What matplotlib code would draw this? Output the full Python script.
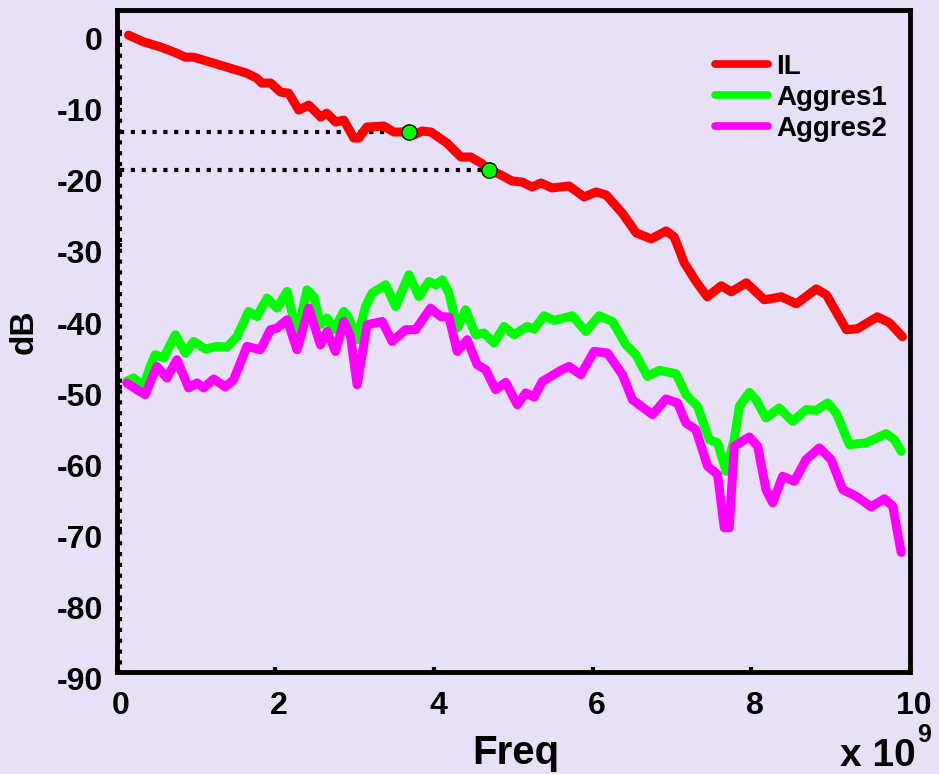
import matplotlib
matplotlib.use("Agg")
import matplotlib.pyplot as plt
from matplotlib.transforms import ScaledTranslation
import numpy as np

BG = "#E7E0F6"
FONT = "Liberation Sans"

# Insertion loss (GHz, dB)
il_freq = [0.151, 0.341, 0.551, 0.757, 0.867, 0.971, 1.224, 1.640, 1.767, 1.830,
           1.943, 2.069, 2.170, 2.297, 2.423, 2.574, 2.650, 2.763, 2.864, 2.990,
           3.053, 3.155, 3.369, 3.495, 3.685, 3.748, 3.849, 3.962, 4.164, 4.341,
           4.467, 4.593, 4.694, 4.845, 4.984, 5.110, 5.237, 5.350, 5.489, 5.703,
           5.893, 6.044, 6.170, 6.372, 6.549, 6.738, 6.927, 7.028, 7.155, 7.306,
           7.445, 7.621, 7.747, 7.937, 8.164, 8.379, 8.568, 8.820, 8.946, 9.199,
           9.338, 9.590, 9.741, 9.905]
il_db = [-0.49, -1.43, -2.13, -3.02, -3.58, -3.58, -4.42, -5.83, -6.53, -7.23,
         -7.23, -8.50, -8.64, -11.03, -10.32, -12.01, -11.45, -12.71, -12.43, -14.96,
         -14.96, -13.41, -13.27, -14.11, -14.10, -14.54, -13.97, -14.11, -15.66, -17.63,
         -17.63, -18.47, -19.40, -20.15, -21.00, -21.14, -21.84, -21.28, -21.98, -21.70,
         -23.24, -22.54, -22.96, -25.49, -28.30, -29.14, -28.02, -28.86, -32.51, -35.18,
         -37.29, -35.74, -36.59, -35.32, -37.71, -37.29, -38.27, -36.17, -37.01, -41.92,
         -41.78, -40.10, -40.94, -42.91]

# Crosstalk from aggressor 1 (GHz, dB)
ag1_freq = [0.130, 0.215, 0.341, 0.425, 0.488, 0.593, 0.741, 0.867, 0.972, 1.119,
            1.266, 1.394, 1.518, 1.665, 1.770, 1.897, 2.023, 2.149, 2.275, 2.401,
            2.486, 2.570, 2.654, 2.738, 2.864, 2.927, 3.032, 3.138, 3.221, 3.391,
            3.517, 3.685, 3.811, 3.937, 4.022, 4.105, 4.189, 4.294, 4.400, 4.526,
            4.631, 4.757, 4.883, 5.009, 5.177, 5.262, 5.388, 5.514, 5.745, 5.914,
            6.082, 6.250, 6.419, 6.545, 6.691, 6.839, 7.050, 7.176, 7.322, 7.470,
            7.575, 7.681, 7.785, 7.849, 7.975, 8.059, 8.185, 8.353, 8.521, 8.690,
            8.816, 8.963, 9.069, 9.237, 9.447, 9.700, 9.804, 9.889]
ag1_db = [-49.19, -48.71, -49.89, -47.08, -45.44, -45.90, -42.63, -45.20, -43.57, -44.63,
          -44.27, -44.35, -42.87, -39.35, -40.06, -37.47, -38.88, -36.54, -42.63, -36.31,
          -37.25, -41.22, -40.28, -41.92, -39.35, -40.28, -43.33, -38.65, -36.77, -35.60,
          -38.65, -34.20, -37.25, -35.14, -35.60, -34.90, -36.77, -41.69, -39.11, -42.63,
          -42.39, -43.79, -41.46, -42.63, -41.46, -41.83, -39.96, -40.62, -39.96, -42.16,
          -39.96, -40.76, -44.03, -45.44, -48.48, -47.64, -48.10, -51.05, -52.70, -57.37,
          -57.84, -61.83, -57.37, -52.70, -50.73, -51.76, -54.33, -52.92, -54.80, -53.16,
          -53.26, -52.22, -53.62, -58.08, -57.84, -56.53, -57.37, -59.02]

# Crosstalk from aggressor 2 (GHz, dB)
ag2_freq = [0.130, 0.256, 0.362, 0.509, 0.635, 0.761, 0.909, 1.013, 1.098, 1.224,
            1.372, 1.476, 1.644, 1.813, 1.939, 2.023, 2.149, 2.275, 2.423, 2.570,
            2.654, 2.760, 2.864, 2.949, 3.032, 3.158, 3.348, 3.474, 3.643, 3.769,
            3.958, 4.085, 4.189, 4.294, 4.420, 4.546, 4.652, 4.778, 4.905, 5.051,
            5.157, 5.262, 5.366, 5.599, 5.703, 5.851, 6.019, 6.187, 6.376, 6.502,
            6.755, 6.924, 7.070, 7.176, 7.302, 7.449, 7.575, 7.659, 7.722, 7.785,
            7.975, 8.080, 8.185, 8.269, 8.395, 8.543, 8.690, 8.858, 9.006, 9.152,
            9.321, 9.510, 9.678, 9.783, 9.889]
ag2_db = [-49.41, -50.35, -51.05, -47.08, -48.71, -46.14, -50.11, -49.41, -50.11, -48.85,
          -49.97, -48.95, -44.27, -44.73, -41.92, -41.69, -40.52, -44.73, -38.88, -44.03,
          -42.16, -44.97, -40.76, -42.87, -49.65, -41.22, -40.76, -43.57, -41.92, -41.92,
          -38.88, -40.06, -40.14, -44.97, -43.33, -46.84, -47.54, -50.35, -49.33, -52.46,
          -50.81, -51.38, -49.19, -47.64, -47.08, -48.24, -44.97, -45.20, -48.24, -51.76,
          -53.86, -51.66, -52.22, -55.03, -55.97, -61.12, -62.29, -69.78, -69.78, -58.31,
          -57.00, -58.31, -64.40, -66.26, -62.53, -63.23, -60.18, -58.54, -60.18, -64.40,
          -65.34, -66.83, -65.70, -66.74, -73.24]

# Cursor points on the IL curve (GHz, dB)
cursor_freq = [3.685, 4.694]
cursor_db = [-14.10, -19.40]
ref_freq = 0.05  # vertical reference line (GHz)

x_ticks = [0, 2, 4, 6, 8, 10]
y_ticks = [0, -10, -20, -30, -40, -50, -60, -70, -80, -90]
series_labels = ["IL", "Aggres1", "Aggres2"]

GHZ = 1e9

plt.rcParams["font.family"] = [FONT, "DejaVu Sans"]
plt.rcParams["font.weight"] = "bold"

fig = plt.figure(figsize=(9.39, 7.74), dpi=100, facecolor=BG)
ax = fig.add_axes([0.1241, 0.1324, 0.8450, 0.8542], facecolor=BG)

dot = (0, (1, 1.6))
ax.plot([ref_freq * GHZ, ref_freq * GHZ], [y_ticks[0], y_ticks[-1]],
        color="black", lw=3, linestyle=dot, dash_capstyle="butt", zorder=3)
for f, d in zip(cursor_freq, cursor_db):
    ax.plot([ref_freq * GHZ, f * GHZ], [d, d], color="black", lw=3,
            linestyle=dot, dash_capstyle="butt", zorder=3)

lw = 6.5
ax.plot(np.array(il_freq) * GHZ, il_db, color="#FF0000", lw=lw,
        solid_joinstyle="round", solid_capstyle="round", label=series_labels[0], zorder=4)
ax.plot(np.array(ag1_freq) * GHZ, ag1_db, color="#00FF00", lw=lw,
        solid_joinstyle="round", solid_capstyle="round", label=series_labels[1], zorder=4)
ax.plot(np.array(ag2_freq) * GHZ, ag2_db, color="#FF00FF", lw=lw,
        solid_joinstyle="round", solid_capstyle="round", label=series_labels[2], zorder=4)

ax.plot(np.array(cursor_freq) * GHZ, cursor_db, linestyle="none", marker="o",
        markersize=11, markerfacecolor="#00FF00", markeredgecolor="black",
        markeredgewidth=1, zorder=5)

ax.set_xlim(0, 10 * GHZ)
ax.set_ylim(-90, 3)
ax.set_xticks([t * GHZ for t in x_ticks])
ax.set_xticklabels([str(t) for t in x_ticks])
ax.set_yticks(y_ticks)
ax.set_yticklabels([str(t) for t in y_ticks])

for s in ax.spines.values():
    s.set_linewidth(3.5)
ax.tick_params(axis="both", direction="in", length=3.5, width=3,
               labelsize=23, color="black")
ax.tick_params(axis="x", pad=14)
ax.tick_params(axis="y", pad=10)
for lab in ax.get_xticklabels():
    lab.set_fontweight("bold")
    lab.set_transform(lab.get_transform() + ScaledTranslation(0.04, 0, fig.dpi_scale_trans))
for lab in ax.get_yticklabels():
    lab.set_fontweight("bold")
    lab.set_transform(lab.get_transform() + ScaledTranslation(0, -0.07, fig.dpi_scale_trans))

ax.set_xlabel("Freq", fontsize=29, fontweight="bold", va="baseline")
ax.xaxis.set_label_coords((516 - 116.5) / 793.5, -(764 - 671.5) / 661)
ax.set_ylabel("dB", fontsize=24, fontweight="bold", va="center", ha="center")
ax.yaxis.set_label_coords((24 - 116.5) / 793.5, (671.5 - 332) / 661)

fig.text(840 / 939, 8 / 774, "x 10", fontsize=28, fontweight="bold",
         ha="left", va="baseline")
fig.text(917 / 939, (774 - 742) / 774, "9", fontsize=18, fontweight="bold",
         ha="left", va="baseline")

leg = ax.legend(loc="upper left", bbox_to_anchor=(715 / 939, (774 - 54) / 774),
                bbox_transform=fig.transFigure, frameon=False, fontsize=20,
                prop={"weight": "bold", "size": 20}, handlelength=1.9,
                handletextpad=0.3, labelspacing=0.18, borderpad=0, borderaxespad=0)
for h in leg.get_lines():
    h.set_linewidth(5.5)

fig.savefig("out.png", dpi=100, facecolor=BG)
